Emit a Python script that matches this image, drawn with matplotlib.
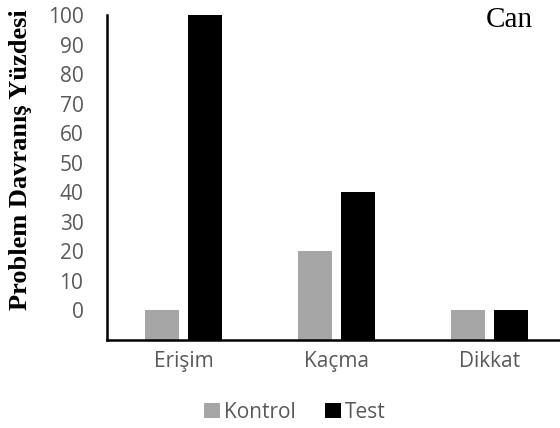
import numpy as np
import matplotlib
matplotlib.use("Agg")
import matplotlib.pyplot as plt

# data
categories = ["Erişim", "Kaçma", "Dikkat"]
kontrol = [0, 20, 0]
test = [100, 40, 0]
y_ticks = [0, 10, 20, 30, 40, 50, 60, 70, 80, 90, 100]

base = -10  # bars start below the 0 line, as in the original
gray_text = "#595959"

fig = plt.figure(figsize=(5.6, 4.28), dpi=100)
ax = fig.add_axes([107 / 560, 88 / 428, 1 - 107 / 560, (340 - 15) / 428])

x = np.arange(len(categories))
w = 0.222
off = 0.14
ax.bar(x - off, np.array(kontrol) - base, w, bottom=base, color="#a6a6a6", label="Kontrol")
ax.bar(x + off, np.array(test) - base, w, bottom=base, color="black", label="Test")

ax.set_xlim(-0.5, 2.46)
ax.set_ylim(base, 100)
ax.set_yticks(y_ticks)
ax.set_xticks(x)
ax.set_xticklabels(categories)

for s in ["top", "right"]:
    ax.spines[s].set_visible(False)
for s in ["left", "bottom"]:
    ax.spines[s].set_linewidth(1.8)
ax.tick_params(length=0, labelsize=15, labelcolor=gray_text)
ax.tick_params(axis="y", pad=17)
ax.tick_params(axis="x", pad=8)
for lbl in ax.get_xticklabels() + ax.get_yticklabels():
    lbl.set_family("Open Sans")

fig.text(21 / 560, 1 - 160 / 428, "Problem Davranış Yüzdesi", rotation=90,
         ha="center", va="center", family="Liberation Serif",
         fontweight="bold", fontsize=19)
fig.text(509 / 560, 1 - 20 / 428, "Can", ha="center", va="center",
         family="Liberation Serif", fontsize=21)

leg = fig.legend(loc="center", bbox_to_anchor=(295 / 560, 1 - 412 / 428),
                 ncol=2, frameon=False, handlelength=0.75, handleheight=0.75,
                 handletextpad=0.2, columnspacing=1.4,
                 prop={"family": "Open Sans", "size": 15})
for t in leg.get_texts():
    t.set_color(gray_text)

fig.savefig("out.png", dpi=100)
